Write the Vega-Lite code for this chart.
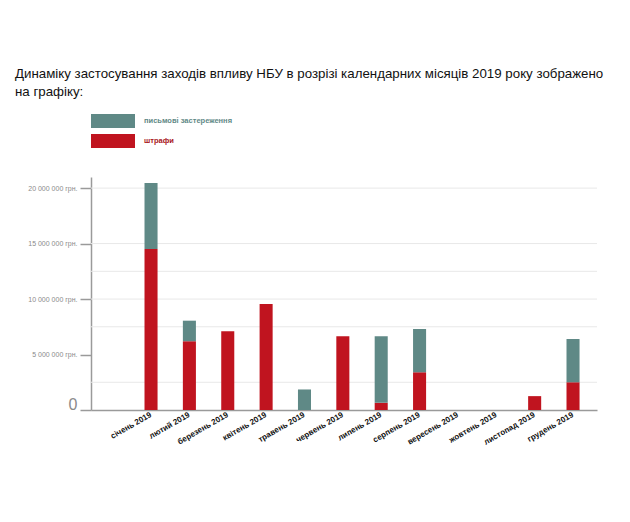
{
  "$schema": "https://vega.github.io/schema/vega-lite/v6.json",
  "autosize": {"type": "none"},
  "width": 506,
  "height": 233,
  "padding": {"left": 91, "top": 177, "right": 33, "bottom": 112},
  "background": "white",
  "title": {
    "text": ["Динаміку застосування заходів впливу НБУ в розрізі календарних місяців 2019 року зображено", "на графіку:"],
    "anchor": "start",
    "frame": "group",
    "dx": -76,
    "offset": 16,
    "font": "Liberation Sans",
    "fontSize": 13.3,
    "fontWeight": "normal",
    "color": "#111111",
    "lineHeight": 18
  },
  "config": {"view": {"stroke": null}},
  "datasets": {
    "bars": [
      {"month": "січень 2019", "series": "штрафи", "value": 14500000},
      {"month": "січень 2019", "series": "письмові застереження", "value": 5950000},
      {"month": "лютий 2019", "series": "штрафи", "value": 6200000},
      {"month": "лютий 2019", "series": "письмові застереження", "value": 1850000},
      {"month": "березень 2019", "series": "штрафи", "value": 7100000},
      {"month": "березень 2019", "series": "письмові застереження", "value": 0},
      {"month": "квітень 2019", "series": "штрафи", "value": 9550000},
      {"month": "квітень 2019", "series": "письмові застереження", "value": 0},
      {"month": "травень 2019", "series": "штрафи", "value": 0},
      {"month": "травень 2019", "series": "письмові застереження", "value": 1850000},
      {"month": "червень 2019", "series": "штрафи", "value": 6650000},
      {"month": "червень 2019", "series": "письмові застереження", "value": 0},
      {"month": "липень 2019", "series": "штрафи", "value": 650000},
      {"month": "липень 2019", "series": "письмові застереження", "value": 6000000},
      {"month": "серпень 2019", "series": "штрафи", "value": 3400000},
      {"month": "серпень 2019", "series": "письмові застереження", "value": 3900000},
      {"month": "вересень 2019", "series": "штрафи", "value": 0},
      {"month": "вересень 2019", "series": "письмові застереження", "value": 0},
      {"month": "жовтень 2019", "series": "штрафи", "value": 0},
      {"month": "жовтень 2019", "series": "письмові застереження", "value": 0},
      {"month": "листопад 2019", "series": "штрафи", "value": 1250000},
      {"month": "листопад 2019", "series": "письмові застереження", "value": 0},
      {"month": "грудень 2019", "series": "штрафи", "value": 2500000},
      {"month": "грудень 2019", "series": "письмові застереження", "value": 3900000}
    ],
    "grid": [
      {"g": 2500000}, {"g": 7500000}, {"g": 10000000}, {"g": 12500000}, {"g": 15000000}, {"g": 20000000}
    ]
  },
  "layer": [
    {
      "data": {"name": "grid"},
      "mark": {"type": "rule", "color": "#e8e8e8", "strokeWidth": 1},
      "encoding": {
        "y": {
          "field": "g",
          "type": "quantitative",
          "scale": {"domain": [0, 21000000], "nice": false, "zero": true},
          "axis": {
            "title": null,
            "grid": false,
            "values": [0, 5000000, 10000000, 15000000, 20000000],
            "labelExpr": "datum.value == 0 ? '0' : replace(format(datum.value, ',d'), /,/g, ' ') + ' грн.'",
            "labelFont": "Liberation Sans",
            "labelFontSize": {"condition": {"test": "datum.value == 0", "value": 16}, "value": 7},
            "labelOffset": {"condition": {"test": "datum.value == 0", "value": -6}, "value": 0},
            "labelColor": "#8a8a8a",
            "labelPadding": 3,
            "tickSize": 11,
            "tickColor": "#9a9a9a",
            "tickWidth": 1.5,
            "domainColor": "#9a9a9a",
            "domainWidth": 1.5
          }
        }
      }
    },
    {
      "data": {"name": "bars"},
      "mark": {"type": "bar"},
      "encoding": {
        "x": {
          "field": "month",
          "type": "nominal",
          "sort": null,
          "scale": {"paddingInner": 0.66, "paddingOuter": 0.925, "align": 0.754},
          "axis": {
            "title": null,
            "labelAngle": -30,
            "labelAlign": "right",
            "labelBaseline": "middle",
            "labelPadding": 4,
            "labelFont": "Liberation Sans",
            "labelFontWeight": "bold",
            "labelFontSize": 8,
            "labelColor": "#111111",
            "ticks": false,
            "domainColor": "#9a9a9a",
            "domainWidth": 1.5
          }
        },
        "y": {
          "field": "value",
          "type": "quantitative",
          "stack": "zero",
          "scale": {"domain": [0, 21000000], "nice": false, "zero": true}
        },
        "color": {
          "field": "series",
          "type": "nominal",
          "scale": {"domain": ["письмові застереження", "штрафи"], "range": ["#5f8986", "#c0141f"]},
          "legend": {
            "title": null,
            "orient": "none",
            "legendX": 0,
            "legendY": -63,
            "padding": 0,
            "symbolType": "M-1,-0.318H1V0.318H-1Z",
            "symbolSize": 1936,
            "symbolStrokeWidth": 0,
            "clipHeight": 14,
            "rowPadding": 6,
            "labelOffset": 9,
            "labelFont": "Liberation Sans",
            "labelFontWeight": "bold",
            "labelFontSize": 7.5,
            "encode": {
              "labels": {"update": {"fill": {"signal": "datum.value == 'штрафи' ? '#a8151c' : '#5f8986'"}}}
            }
          }
        },
        "order": {"field": "series", "sort": "descending"}
      }
    }
  ]
}
